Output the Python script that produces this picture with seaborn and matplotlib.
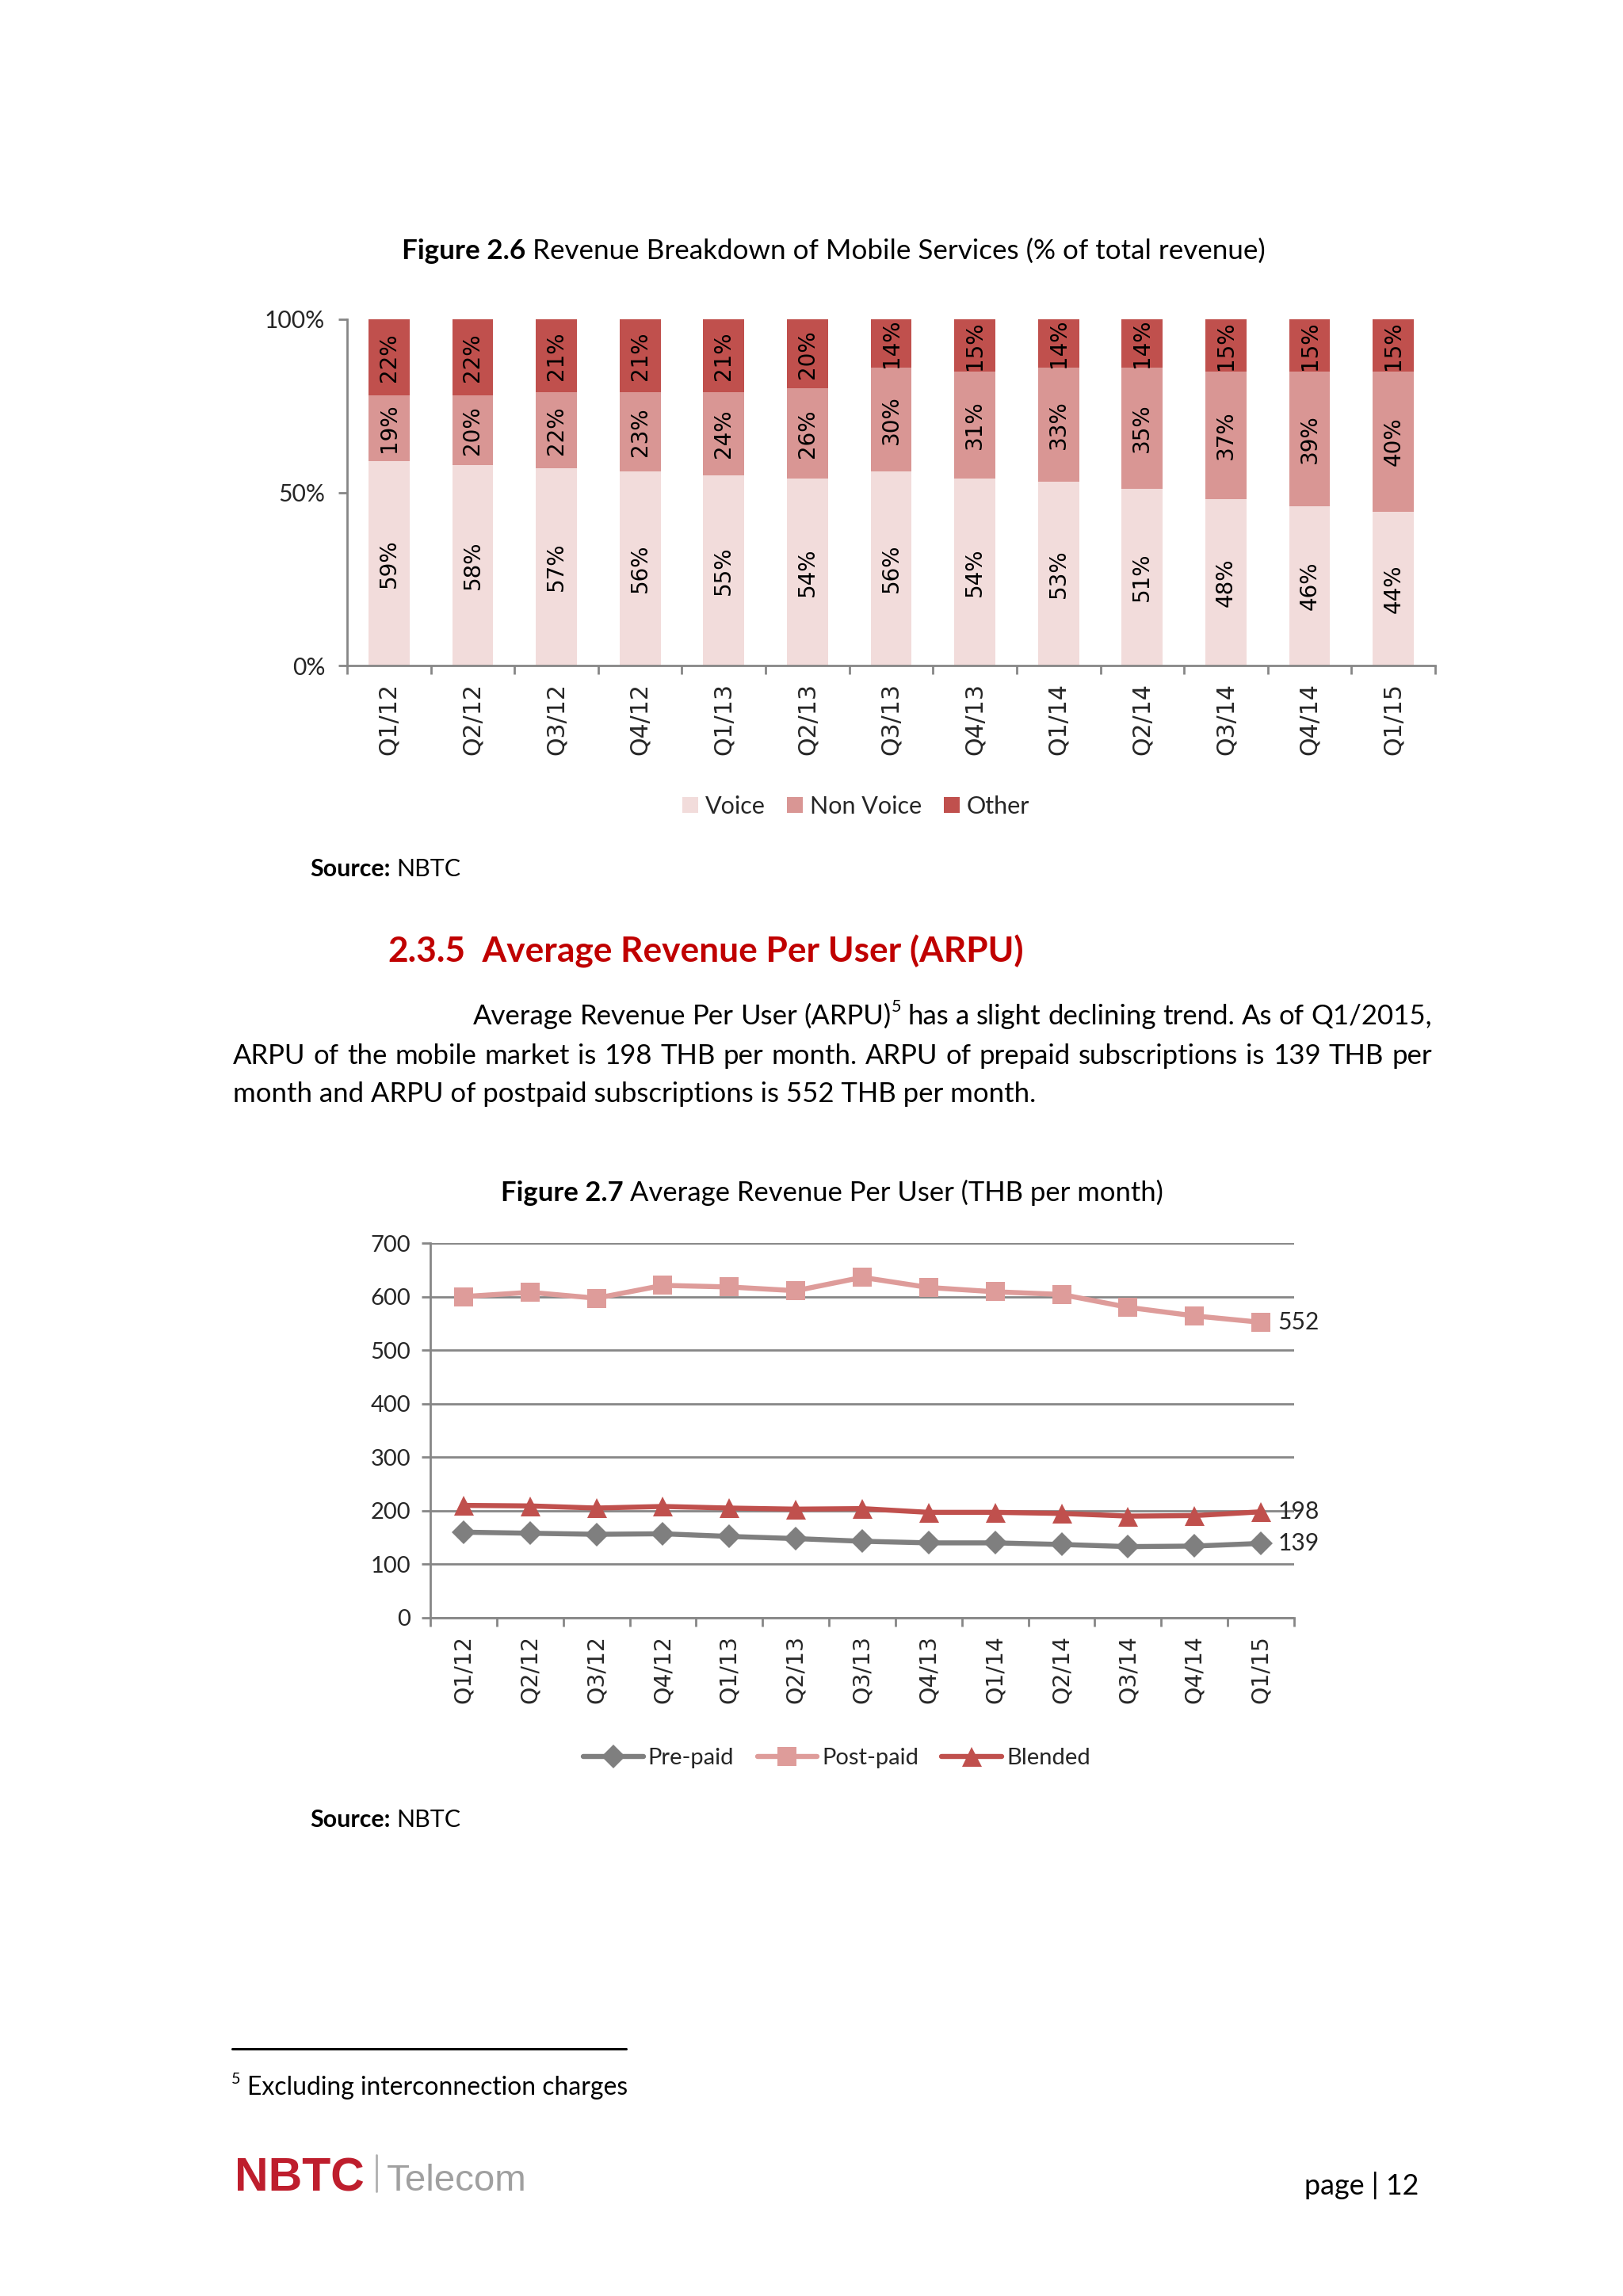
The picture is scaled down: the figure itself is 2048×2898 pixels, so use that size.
import matplotlib
matplotlib.use("Agg")
import matplotlib.pyplot as plt
from matplotlib.patches import Patch
from matplotlib.lines import Line2D
import seaborn as sns
import pandas as pd
import numpy as np

# ---------------- data ----------------
quarters = ["Q1/12", "Q2/12", "Q3/12", "Q4/12", "Q1/13", "Q2/13", "Q3/13",
            "Q4/13", "Q1/14", "Q2/14", "Q3/14", "Q4/14", "Q1/15"]
voice = [59, 58, 57, 56, 55, 54, 56, 54, 53, 51, 48, 46, 44]
non_voice = [19, 20, 22, 23, 24, 26, 30, 31, 33, 35, 37, 39, 40]
other = [22, 22, 21, 21, 21, 20, 14, 15, 14, 14, 15, 15, 15]
pct_ticks = [0, 50, 100]
pct_tick_labels = ["0%", "50%", "100%"]

prepaid = [160, 158, 156, 157, 152, 148, 143, 140, 140, 137, 133, 134, 139]
postpaid = [600, 608, 597, 621, 618, 611, 636, 617, 609, 604, 580, 564, 552]
blended = [210, 209, 205, 208, 205, 203, 204, 197, 197, 195, 190, 191, 198]
arpu_ticks = [0, 100, 200, 300, 400, 500, 600, 700]
end_labels = {"Post-paid": "552", "Blended": "198", "Pre-paid": "139"}

# ---------------- style ----------------
C_VOICE, C_NONV, C_OTHER = "#F2DCDB", "#D99694", "#C0504D"
C_PRE, C_POST, C_BLEND = "#7F7F7F", "#DE9C9A", "#C0504D"
AX_C = "#868686"
SANS = ["Lato", "DejaVu Sans"]
VERD = ["DejaVu Sans"]

sns.set_theme(style="white")
plt.rcParams["font.family"] = SANS
plt.rcParams["axes.unicode_minus"] = False

W, H, DPI = 2048, 2898, 200
fig = plt.figure(figsize=(W / DPI, H / DPI), dpi=DPI)
fig.patch.set_facecolor("white")
R = fig.canvas.get_renderer()


def tw(t):
    return t.get_window_extent(renderer=R).width


def space_w(sz, p):
    a = fig.text(0, 0, "a a", fontsize=sz, **p)
    b = fig.text(0, 0, "aa", fontsize=sz, **p)
    w = tw(a) - tw(b)
    a.remove(); b.remove()
    return w


def build(segs, sz):
    objs, cur = [], 0.0
    for text, p in segs:
        p = dict(p)
        sup = p.pop("sup", False)
        gap = p.pop("gap", False)
        if gap:
            cur += space_w(sz, p)
        s_sz = sz * 0.62 if sup else sz
        t = fig.text(0, 0, text, fontsize=s_sz, va="baseline", ha="left", **p)
        objs.append((t, cur, sup))
        cur += tw(t)
    return objs, cur


def place(objs, x0, y_base, sz):
    for t, off, sup in objs:
        dy = sz * 0.45 * DPI / 72 if sup else 0
        t.set_position(((x0 + off) / W, 1 - (y_base - dy) / H))


def run(segs, y_base, x=None, center=None, right=None, size=11, fit_w=None):
    objs, total = build(segs, size)
    if fit_w:
        for t, _, _ in objs:
            t.remove()
        size = size * fit_w / total
        objs, total = build(segs, size)
    if center is not None:
        x0 = center - total / 2
    elif right is not None:
        x0 = right - total
    else:
        x0 = x
    place(objs, x0, y_base, size)
    return size


def justify(words, x0, x1, y_base, size):
    built = [build(w, size) for w in words]
    total = sum(b[1] for b in built)
    gap = (x1 - x0 - total) / (len(words) - 1)
    cur = x0
    for objs, w in built:
        place(objs, cur, y_base, size)
        cur += w + gap


# ---------------- Figure 2.6 : stacked bars ----------------
ax1 = fig.add_axes([438 / W, 1 - 840 / H, (1811 - 438) / W, (840 - 403) / H])
df = pd.DataFrame({"quarter": quarters, "Voice": voice,
                   "Non Voice": non_voice, "Other": other})
tot = df[["Voice", "Non Voice", "Other"]].sum(axis=1)
df["low"] = df["Voice"] / tot * 100
df["mid"] = (df["Voice"] + df["Non Voice"]) / tot * 100
df["top"] = 100.0

for col, colr in [("top", C_OTHER), ("mid", C_NONV), ("low", C_VOICE)]:
    sns.barplot(data=df, x="quarter", y=col, order=quarters, color=colr,
                saturation=1, width=0.49, errorbar=None, linewidth=0, ax=ax1)

for i in range(len(quarters)):
    lo, mi = df["low"][i], df["mid"][i]
    for yc, val in [(lo / 2, voice[i]), ((lo + mi) / 2, non_voice[i]),
                    ((mi + 100) / 2, other[i])]:
        ax1.text(i, yc, f"{val}%", rotation=90, ha="center", va="center",
                 fontsize=10, family=VERD, color="black")

ax1.set_xlim(-0.5, len(quarters) - 0.5)
ax1.set_ylim(0, 100)
ax1.set_xlabel(""); ax1.set_ylabel("")
ax1.set_yticks(pct_ticks)
ax1.set_yticklabels(pct_tick_labels, fontsize=10.8, family=SANS)
ax1.set_xticks(np.arange(-0.5, len(quarters), 1))
ax1.set_xticklabels([])
ax1.set_xticks(np.arange(len(quarters)), minor=True)
ax1.set_xticklabels(quarters, minor=True, rotation=90, fontsize=10.8,
                    family=VERD)
ax1.tick_params(axis="x", which="major", direction="out", length=4,
                width=1, color=AX_C, bottom=True)
ax1.tick_params(axis="x", which="minor", length=0, pad=8, bottom=True)
ax1.tick_params(axis="y", direction="out", length=4, width=1, color=AX_C,
                left=True, pad=6)
for s in ["top", "right"]:
    ax1.spines[s].set_visible(False)
for s in ["left", "bottom"]:
    ax1.spines[s].set_color(AX_C)
    ax1.spines[s].set_linewidth(1.0)
ax1.grid(False)

h1 = [Patch(facecolor=c, edgecolor="none") for c in (C_VOICE, C_NONV, C_OTHER)]
fig.legend(h1, ["Voice", "Non Voice", "Other"], loc="center",
           bbox_to_anchor=(1080 / W, 1 - 1018 / H), ncol=3, frameon=False,
           handlelength=0.65, handleheight=0.65, handletextpad=0.3,
           columnspacing=0.9, fontsize=11)

# ---------------- Figure 2.7 : ARPU lines ----------------
ax2 = fig.add_axes([543 / W, 1 - 2042 / H, (1633 - 543) / W, (2042 - 1569) / H])
pos = list(range(len(quarters)))
df2 = pd.DataFrame({"pos": pos, "Pre-paid": prepaid,
                    "Post-paid": postpaid, "Blended": blended})
series = [("Pre-paid", C_PRE, "D", 7.5), ("Post-paid", C_POST, "s", 8.5),
          ("Blended", C_BLEND, "^", 9)]
for name, colr, mk, ms in series:
    sns.lineplot(data=df2, x="pos", y=name, color=colr, marker=mk,
                 markersize=ms, markeredgewidth=0, linewidth=2.3, ax=ax2,
                 legend=False, zorder=3)
    ax2.text(pos[-1] + 0.25, df2[name].iloc[-1], end_labels[name],
             ha="left", va="center", fontsize=10.8, family=SANS,
             clip_on=False)

ax2.set_xlim(-0.5, len(quarters) - 0.5)
ax2.set_ylim(0, 700)
ax2.set_xlabel(""); ax2.set_ylabel("")
ax2.set_yticks(arpu_ticks)
ax2.set_yticklabels([str(v) for v in arpu_ticks], fontsize=10.5, family=SANS)
ax2.set_xticks(np.arange(-0.5, len(quarters), 1))
ax2.set_xticklabels([])
ax2.set_xticks(pos, minor=True)
ax2.set_xticklabels(quarters, minor=True, rotation=90, fontsize=10.2,
                    family=VERD)
ax2.tick_params(axis="x", which="major", direction="out", length=4,
                width=1, color=AX_C, bottom=True)
ax2.tick_params(axis="x", which="minor", length=0, pad=8, bottom=True)
ax2.tick_params(axis="y", direction="out", length=4, width=1, color=AX_C,
                left=True, pad=5)
ax2.set_axisbelow(True)
ax2.yaxis.grid(True, color=AX_C, linewidth=1.0)
ax2.xaxis.grid(False)
for s in ["top", "right"]:
    ax2.spines[s].set_visible(False)
for s in ["left", "bottom"]:
    ax2.spines[s].set_color(AX_C)
    ax2.spines[s].set_linewidth(1.0)

h2 = [Line2D([0], [0], color=c, marker=m, markersize=ms, markeredgewidth=0,
             linewidth=2.3) for _, c, m, ms in series]
fig.legend(h2, [s[0] for s in series], loc="center",
           bbox_to_anchor=(1056 / W, 1 - 2219 / H), ncol=3, frameon=False,
           handlelength=2.6, handletextpad=0.2, columnspacing=1.0,
           fontsize=10.5)

# ---------------- page text ----------------
B = {"fontweight": "bold", "color": "black"}
N = {"color": "black"}

run([("Figure 2.6", B), ("Revenue Breakdown of Mobile Services (% of total revenue)", dict(N, gap=True))],
    y_base=327, center=1052, size=11, fit_w=1085)
run([("Source:", B), ("NBTC", dict(N, gap=True))], y_base=1106, x=391,
    size=11, fit_w=190)

run([("2.3.5", {"fontweight": "bold", "color": "#C00000"}),
     ("  Average Revenue Per User (ARPU)", {"fontweight": "bold", "color": "#C00000"})],
    y_base=1214, x=489, size=15, fit_w=802)

line3 = "month and ARPU of postpaid subscriptions is 552 THB per month."
para_size = run([(line3, N)], y_base=1391, x=294, size=11, fit_w=1010)

l1_words = [[(w, N)] for w in "Average Revenue Per User".split()]
l1_words.append([("(ARPU)", N), ("5", dict(N, sup=True))])
l1_words += [[(w, N)] for w in "has a slight declining trend. As of Q1/2015,".split()]
justify(l1_words, 597, 1807, 1293, para_size)

l2 = "ARPU of the mobile market is 198 THB per month. ARPU of prepaid subscriptions is 139 THB per"
justify([[(w, N)] for w in l2.split()], 294, 1807, 1343, para_size)

run([("Figure 2.7", B), ("Average Revenue Per User (THB per month)", dict(N, gap=True))],
    y_base=1516, center=1050, size=11, fit_w=835)
run([("Source:", B), ("NBTC", dict(N, gap=True))], y_base=2306, x=391,
    size=11, fit_w=190)

# footnote rule & footnote
fig.add_artist(Line2D([293 / W, 790 / W], [1 - 2586 / H, 1 - 2586 / H],
                      color="black", linewidth=1.1))
run([("5", dict(N, sup=True)), ("Excluding interconnection charges", dict(N, gap=True))],
    y_base=2644, x=292, size=10.5, fit_w=500)

# footer logo and page number
run([("NBTC", {"fontweight": "bold", "color": "#BE1E2D",
               "family": ["Liberation Sans", "DejaVu Sans"]})],
    y_base=2765, x=296, size=22, fit_w=164)
fig.add_artist(Line2D([475 / W, 475 / W], [1 - 2720 / H, 1 - 2766 / H],
                      color="#B0B0B0", linewidth=1.0))
run([("Telecom", {"color": "#A0A0A0",
                  "family": ["Liberation Sans", "DejaVu Sans"]})],
    y_base=2765, x=488, size=17, fit_w=177)
run([("page | 12", N)], y_base=2770, right=1790, size=11, fit_w=144)

fig.savefig("out.png", dpi=DPI, facecolor="white")
